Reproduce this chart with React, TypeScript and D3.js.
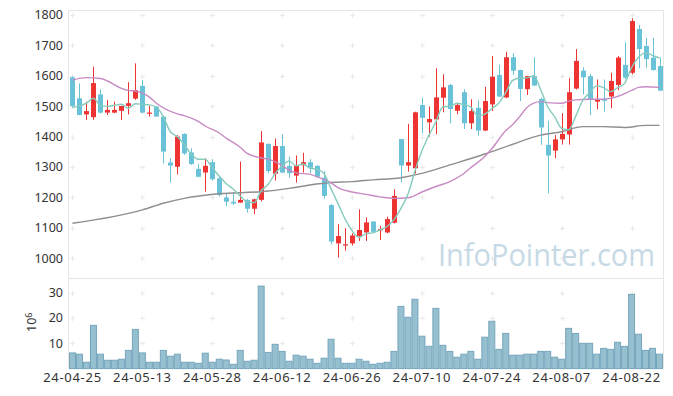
import React from "react";
import * as d3 from "d3";

// trading days shown on the chart
const dates = [
  "24-04-25", "24-04-26", "24-04-29", "24-04-30", "24-05-02", "24-05-03", "24-05-07", "24-05-08", "24-05-09", "24-05-10",
  "24-05-13", "24-05-14", "24-05-16", "24-05-17", "24-05-20", "24-05-21", "24-05-22", "24-05-23", "24-05-24", "24-05-27",
  "24-05-28", "24-05-29", "24-05-30", "24-05-31", "24-06-03", "24-06-04", "24-06-05", "24-06-07", "24-06-10", "24-06-11",
  "24-06-12", "24-06-13", "24-06-14", "24-06-17", "24-06-18", "24-06-19", "24-06-20", "24-06-21", "24-06-24", "24-06-25",
  "24-06-26", "24-06-27", "24-06-28", "24-07-01", "24-07-02", "24-07-03", "24-07-04", "24-07-05", "24-07-08", "24-07-09",
  "24-07-10", "24-07-11", "24-07-12", "24-07-15", "24-07-16", "24-07-17", "24-07-18", "24-07-19", "24-07-22", "24-07-23",
  "24-07-24", "24-07-25", "24-07-26", "24-07-29", "24-07-30", "24-07-31", "24-08-01", "24-08-02", "24-08-05", "24-08-06",
  "24-08-07", "24-08-08", "24-08-09", "24-08-12", "24-08-13", "24-08-14", "24-08-16", "24-08-19", "24-08-20", "24-08-21",
  "24-08-22", "24-08-23", "24-08-26", "24-08-27", "24-08-28",
];

const open = [
  1595, 1526, 1473, 1464, 1539, 1479, 1479, 1485, 1501, 1525,
  1567, 1477, 1499, 1466, 1315, 1301, 1409, 1348, 1294, 1282,
  1316, 1263, 1200, 1186, 1183, 1192, 1163, 1192, 1376, 1278,
  1369, 1304, 1272, 1306, 1316, 1304, 1265, 1175, 1049, 1042,
  1049, 1073, 1085, 1121, 1093, 1085, 1117, 1392, 1305, 1296,
  1504, 1447, 1457, 1528, 1570, 1485, 1546, 1444, 1495, 1420,
  1506, 1603, 1529, 1661, 1619, 1556, 1599, 1524, 1373, 1354,
  1391, 1407, 1558, 1617, 1599, 1515, 1524, 1532, 1570, 1636,
  1610, 1754, 1698, 1660, 1632,
];
const high = [
  1598, 1575, 1515, 1630, 1556, 1521, 1515, 1501, 1579, 1641,
  1586, 1501, 1499, 1466, 1329, 1405, 1411, 1362, 1310, 1329,
  1326, 1266, 1213, 1216, 1318, 1195, 1196, 1418, 1378, 1394,
  1408, 1334, 1338, 1347, 1326, 1306, 1287, 1178, 1112, 1099,
  1082, 1161, 1135, 1122, 1107, 1137, 1227, 1392, 1442, 1482,
  1528, 1499, 1625, 1605, 1573, 1512, 1556, 1523, 1521, 1564,
  1665, 1636, 1679, 1674, 1620, 1600, 1661, 1528, 1452, 1405,
  1477, 1592, 1688, 1628, 1606, 1588, 1588, 1610, 1665, 1710,
  1789, 1767, 1725, 1725, 1660,
];
const low = [
  1497, 1471, 1455, 1455, 1476, 1471, 1477, 1455, 1473, 1521,
  1476, 1466, 1466, 1312, 1249, 1276, 1340, 1307, 1266, 1219,
  1255, 1203, 1171, 1175, 1183, 1150, 1145, 1187, 1279, 1256,
  1280, 1265, 1249, 1282, 1280, 1265, 1196, 1046, 1002, 1025,
  1042, 1057, 1057, 1085, 1060, 1082, 1115, 1250, 1285, 1279,
  1411, 1400, 1408, 1480, 1444, 1474, 1425, 1425, 1403, 1418,
  1484, 1530, 1526, 1603, 1517, 1537, 1566, 1373, 1214, 1329,
  1374, 1374, 1555, 1539, 1471, 1490, 1482, 1493, 1553, 1589,
  1605, 1625, 1625, 1617, 1551,
];
const close = [
  1501, 1471, 1484, 1576, 1479, 1488, 1488, 1501, 1510, 1553,
  1479, 1479, 1466, 1351, 1305, 1400, 1345, 1310, 1268, 1304,
  1260, 1208, 1186, 1180, 1192, 1163, 1194, 1381, 1287, 1369,
  1282, 1280, 1304, 1316, 1298, 1268, 1205, 1055, 1073, 1046,
  1075, 1093, 1118, 1087, 1096, 1129, 1205, 1305, 1316, 1480,
  1462, 1458, 1529, 1562, 1491, 1504, 1444, 1484, 1420, 1517,
  1597, 1532, 1661, 1617, 1557, 1599, 1568, 1430, 1338, 1391,
  1409, 1546, 1649, 1595, 1523, 1521, 1518, 1583, 1660, 1594,
  1780, 1688, 1655, 1619, 1551,
];

// volume, millions of shares
const volume = [
  6.2, 5.7, 2.5, 17.1, 5.7, 3.3, 3.3, 3.7, 7.2, 15.5,
  6.2, 2.5, 2.5, 7.2, 4.9, 5.7, 2.5, 2.5, 2.1, 6.1,
  2.5, 3.7, 3.4, 1.7, 7.2, 2.9, 3.3, 32.6, 6.4, 9.6,
  6.8, 2.9, 5.3, 4.9, 3.7, 2.1, 4.1, 11.6, 4.1, 2.1,
  2.1, 3.7, 2.9, 1.7, 2.1, 2.5, 6.8, 24.6, 20.3, 27.4,
  12.8, 8.8, 23.8, 9.2, 6.8, 4.5, 5.7, 6.8, 3.7, 12.4,
  18.7, 7.6, 13.9, 5.3, 5.3, 5.7, 5.7, 6.8, 6.8, 4.5,
  3.7, 15.9, 13.9, 10.0, 10.0, 5.7, 8.0, 7.6, 10.4, 8.8,
  29.3, 13.6, 7.2, 8.0, 5.7,
];

// 5-day average for the first four days (earlier closes are off the chart)
const ma5Lead = [1496, 1501, 1510, 1526];

// 20-day and 60-day averages (day index -> value)
const ma20Day = [0, 2, 4, 5, 7, 8, 9, 11, 12, 15, 16, 18, 19, 21, 22, 24, 25, 27, 28, 30, 31, 32, 34, 35, 37, 38, 40, 42, 44, 46, 48, 50, 52, 54, 56, 57, 59, 60, 62, 63, 64, 65, 67, 68, 70, 71, 72, 74, 75, 77, 78, 80, 81, 82, 84];
const ma20Val = [1586, 1594, 1591, 1583, 1559, 1552, 1550, 1530, 1510, 1475, 1469, 1450, 1435, 1412, 1395, 1365, 1345, 1330, 1326, 1305, 1290, 1281, 1276, 1268, 1248, 1232, 1218, 1210, 1202, 1197, 1199, 1218, 1236, 1252, 1279, 1298, 1335, 1360, 1420, 1440, 1466, 1495, 1515, 1512, 1510, 1517, 1521, 1523, 1523, 1526, 1532, 1552, 1562, 1564, 1562];
const ma60Day = [0, 10, 13, 16, 21, 27, 31, 34, 37, 40, 43, 47, 50, 54, 59, 63, 67, 70, 73, 76, 79, 82, 84];
const ma60Val = [1115, 1159, 1181, 1197, 1212, 1219, 1230, 1241, 1249, 1252, 1258, 1265, 1279, 1307, 1343, 1375, 1405, 1416, 1433, 1433, 1430, 1437, 1437];

const priceTicks = [1000, 1100, 1200, 1300, 1400, 1500, 1600, 1700, 1800];
const volumeTicks = [10, 20, 30];
const labelEvery = 10;

const UP = "#ee3333";
const DOWN = "#69c2d8";
const FONT = "'Noto Sans', sans-serif";

export default function App() {
  const W = 673;
  const H = 396;
  const left = 69;
  const right = 663;
  const top = 10;
  const split = 278;
  const bottom = 368.6;

  const idx = d3.range(dates.length);
  const x = d3.scaleBand<number>().domain(idx).range([left, right]);
  const cx = (i: number) => (x(i) as number) + x.bandwidth() / 2;
  const y = d3.scaleLinear().domain([935.2, 1816.4]).range([split, top]);
  const yv = d3.scaleLinear().domain([0, 35.8]).range([bottom, split]);

  const ma5 = idx.map((i) => (i < 4 ? ma5Lead[i] : (d3.mean(close.slice(i - 4, i + 1)) as number)));

  const line = d3
    .line<[number, number]>()
    .x((d) => cx(d[0]))
    .y((d) => y(d[1]))
    .curve(d3.curveMonotoneX);

  const tickIdx = idx.filter((i) => i % labelEvery === 0);
  const plus = (px: number, py: number, k: string) => (
    <path key={k} d={`M${px - 2.5},${py}H${px + 2.5}M${px},${py - 2.5}V${py + 2.5}`} stroke="#e9e9e9" strokeWidth={1} />
  );

  return (
    <svg width={W} height={H} style={{ position: "absolute", left: 0, top: 0, background: "#fff" }} fontFamily={FONT}>
      {/* grid markers */}
      {tickIdx.map((i) => priceTicks.map((p) => plus(Math.round(cx(i)) + 0.5, Math.round(y(p)) + 0.5, `p${i}-${p}`)))}
      {tickIdx.map((i) => volumeTicks.map((v) => plus(Math.round(cx(i)) + 0.5, Math.round(yv(v)) + 0.5, `v${i}-${v}`)))}

      {/* frame */}
      <g stroke="#e6e6e6" strokeWidth={1} fill="none">
        <path d={`M${left - 0.5},${top}V${bottom}`} />
        <path d={`M${right + 0.5},${top}V${bottom}`} />
        <path d={`M${left},${top + 0.5}H${right}`} />
        <path d={`M${left},${split + 0.5}H${right}`} />
      </g>

      {/* watermark */}
      <text x={438} y={266} fontSize={31} fill="#c6d9e5" textLength={217} lengthAdjust="spacingAndGlyphs" fontFamily="'Open Sans', sans-serif">
        InfoPointer.com
      </text>

      {/* price axis */}
      {priceTicks.map((p) => (
        <text key={p} x={63} y={y(p)} dy="0.35em" textAnchor="end" fontSize={12.5} fill="#333">
          {p}
        </text>
      ))}
      {/* volume axis */}
      {volumeTicks.map((v) => (
        <text key={v} x={63} y={yv(v)} dy="0.35em" textAnchor="end" fontSize={12.5} fill="#333">
          {v}
        </text>
      ))}
      <text transform="translate(36,332) rotate(-90)" fontSize={12.5} fill="#333">
        10<tspan dy={-4.5} fontSize={9}>6</tspan>
      </text>
      {/* date labels */}
      {tickIdx.map((i) => (
        <text key={i} x={cx(i)} y={382} textAnchor="middle" fontSize={13} letterSpacing={0.7} fill="#333">
          {dates[i]}
        </text>
      ))}

      {/* volume bars */}
      {idx.map((i) => (
        <rect
          key={i}
          x={(x(i) as number) + 0.5}
          y={yv(volume[i])}
          width={x.bandwidth() - 1}
          height={yv(0) - yv(volume[i])}
          fill="#96bfd0"
          stroke="#76a6bc"
          strokeWidth={1}
        />
      ))}

      {/* candles */}
      {idx.map((i) => {
        const up = close[i] >= open[i];
        const c = up ? UP : DOWN;
        const yt = y(Math.max(open[i], close[i]));
        const yb = y(Math.min(open[i], close[i]));
        const xc = Math.round(cx(i)) + 0.5;
        return (
          <g key={i}>
            <line x1={xc} x2={xc} y1={y(high[i])} y2={y(low[i])} stroke={c} strokeWidth={1} />
            <rect x={xc - 2.5} y={yt} width={5} height={Math.max(1.2, yb - yt)} fill={c} />
          </g>
        );
      })}

      {/* moving averages */}
      <path d={line(ma60Day.map((d, k) => [d, ma60Val[k]]) as [number, number][]) ?? ""} fill="none" stroke="#8e8e8e" strokeWidth={1.4} />
      <path d={line(ma20Day.map((d, k) => [d, ma20Val[k]]) as [number, number][]) ?? ""} fill="none" stroke="#c88ac4" strokeWidth={1.4} />
      <path d={line(ma5.map((v, i) => [i, v]) as [number, number][]) ?? ""} fill="none" stroke="#85cbbd" strokeWidth={1.4} />
    </svg>
  );
}
